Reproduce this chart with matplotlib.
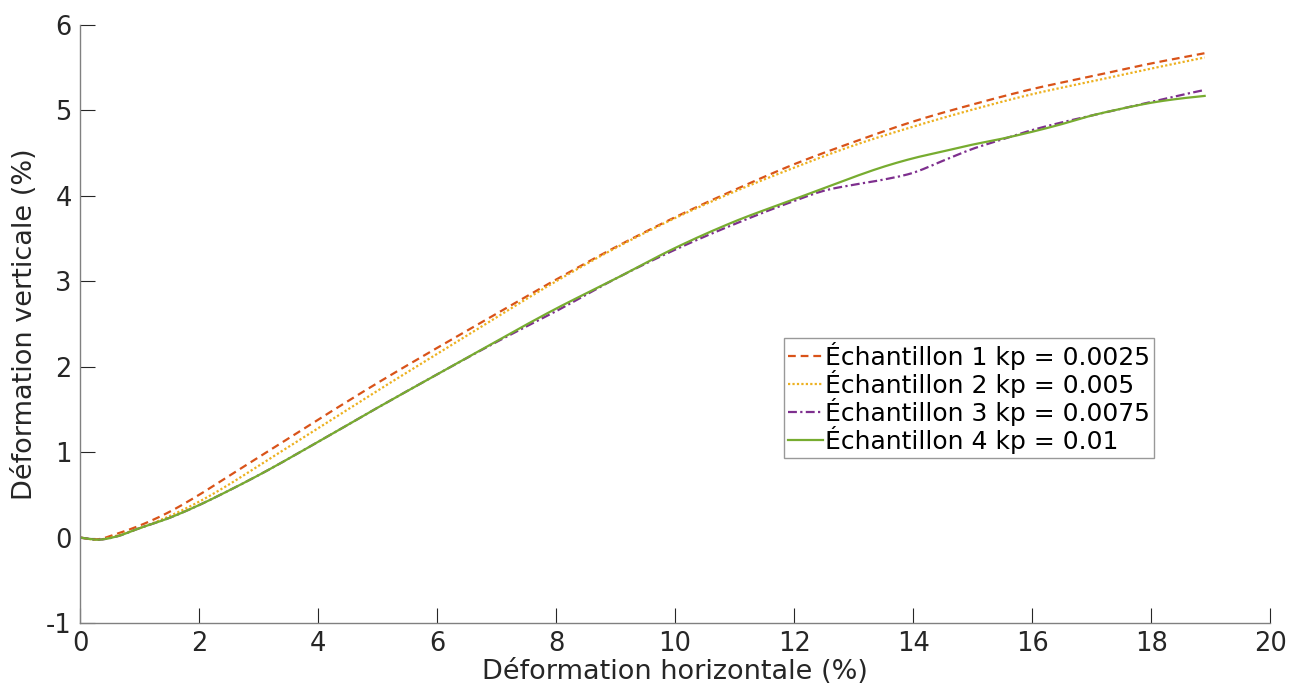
import numpy as np
import matplotlib
matplotlib.use("Agg")
import matplotlib.pyplot as plt

# Data (x: horizontal strain %, y: vertical strain %)
x1 = [0, 0.3, 0.6, 1.0, 1.5, 2, 2.5, 3, 4, 5, 6, 7, 8, 9, 10, 11, 12, 13, 14, 15, 16, 17, 18, 18.9]
y1 = [0, -0.02, 0.04, 0.14, 0.30, 0.50, 0.72, 0.94, 1.38, 1.81, 2.22, 2.62, 3.02, 3.40, 3.75, 4.07,
      4.37, 4.63, 4.87, 5.07, 5.25, 5.40, 5.55, 5.67]

x2 = x1
y2 = [0, -0.025, 0.02, 0.11, 0.25, 0.42, 0.62, 0.84, 1.28, 1.72, 2.15, 2.58, 3.00, 3.39, 3.74, 4.05,
      4.33, 4.59, 4.81, 5.01, 5.19, 5.34, 5.49, 5.62]

x3 = [0, 0.3, 0.6, 1, 1.5, 2, 2.5, 3, 4, 5, 6, 7, 8, 9, 10, 11, 12, 12.5, 13, 13.5, 14, 14.5, 15,
      15.5, 16, 16.5, 17, 17.5, 18, 18.5, 18.9]
y3 = [0, -0.025, 0.01, 0.11, 0.23, 0.38, 0.55, 0.73, 1.12, 1.52, 1.91, 2.29, 2.65, 3.03, 3.37, 3.67,
      3.94, 4.06, 4.13, 4.19, 4.27, 4.41, 4.55, 4.66, 4.77, 4.86, 4.94, 5.02, 5.10, 5.18, 5.24]

x4 = x3
y4 = [0, -0.025, 0.01, 0.11, 0.23, 0.38, 0.55, 0.73, 1.12, 1.52, 1.91, 2.30, 2.68, 3.03, 3.39, 3.70,
      3.96, 4.09, 4.22, 4.34, 4.44, 4.52, 4.60, 4.67, 4.75, 4.84, 4.94, 5.02, 5.09, 5.14, 5.17]

labels = ["Échantillon 1 kp = 0.0025", "Échantillon 2 kp = 0.005",
          "Échantillon 3 kp = 0.0075", "Échantillon 4 kp = 0.01"]

xticks = [0, 2, 4, 6, 8, 10, 12, 14, 16, 18, 20]
yticks = [-1, 0, 1, 2, 3, 4, 5, 6]


def smooth(x, y, n=300):
    # cubic hermite through the read points, just to avoid kinks
    x = np.asarray(x, float)
    y = np.asarray(y, float)
    xs = np.linspace(x[0], x[-1], n)
    m = np.gradient(y, x)
    idx = np.clip(np.searchsorted(x, xs) - 1, 0, len(x) - 2)
    h = x[idx + 1] - x[idx]
    t = (xs - x[idx]) / h
    h00 = 2 * t**3 - 3 * t**2 + 1
    h10 = t**3 - 2 * t**2 + t
    h01 = -2 * t**3 + 3 * t**2
    h11 = t**3 - t**2
    ys = h00 * y[idx] + h10 * h * m[idx] + h01 * y[idx + 1] + h11 * h * m[idx + 1]
    return xs, ys


plt.rcParams["font.family"] = ["DejaVu Sans"]
text_col = "#262626"

fig = plt.figure(figsize=(12.91, 6.95), dpi=100)
ax = fig.add_axes([0.062, 0.1036, 0.9218, 0.8604])

series = [
    (x1, y1, "#D95319", (0, (3.5, 2.2))),
    (x2, y2, "#EDB120", (0, (1, 1))),
    (x3, y3, "#7E2F8E", (0, (4, 1.5, 1, 1.5))),
    (x4, y4, "#77AC30", "-"),
]
for (x, y, c, ls), lab in zip(series, labels):
    xs, ys = smooth(x, y)
    ax.plot(xs, ys, color=c, linestyle=ls, linewidth=1.6, label=lab)

ax.set_xlim(0, 20)
ax.set_ylim(-1, 6)
ax.set_xticks(xticks)
ax.set_yticks(yticks)
ax.set_xticklabels([str(v) for v in xticks])
ax.set_yticklabels([str(v) for v in yticks])

for s in ["top", "right"]:
    ax.spines[s].set_visible(False)
for s in ["left", "bottom"]:
    ax.spines[s].set_color("#808080")
    ax.spines[s].set_linewidth(1.0)
ax.tick_params(direction="in", length=11, width=0.8, color="#262626",
               labelsize=18.5, labelcolor=text_col, pad=6)

ax.set_xlabel("Déformation horizontale (%)", fontsize=19.5, color=text_col, labelpad=1)
ax.set_ylabel("Déformation verticale (%)", fontsize=19.5, color=text_col, labelpad=6)

leg = ax.legend(loc="upper left", bbox_to_anchor=(0.5916, 0.4766), fontsize=18,
                frameon=True, fancybox=False, edgecolor="#808080",
                handlelength=1.4, handletextpad=0.1, labelspacing=0.0,
                borderpad=0.15, borderaxespad=0)
leg.get_frame().set_linewidth(1.0)
for t in leg.get_texts():
    t.set_color("black")

fig.savefig("out.png", dpi=100)
